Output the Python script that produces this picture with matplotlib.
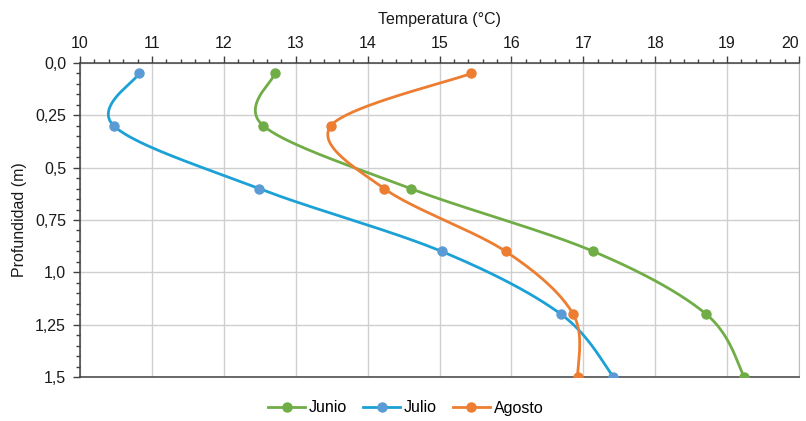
import numpy as np
import matplotlib
matplotlib.use("Agg")
import matplotlib.pyplot as plt
from matplotlib.ticker import MultipleLocator, FixedLocator
from matplotlib.lines import Line2D

plt.rcParams['font.family'] = ['Liberation Sans Narrow', 'Liberation Sans', 'DejaVu Sans']

# Depth of each measurement (m)
depths = [0.05, 0.30, 0.60, 0.90, 1.20, 1.50]

# Temperature (°C) per month
junio = [12.71, 12.55, 14.60, 17.14, 18.71, 19.24]
julio = [10.82, 10.47, 12.49, 15.03, 16.69, 17.42]
agosto = [15.44, 13.49, 14.23, 15.92, 16.86, 16.92]

series_names = ["Junio", "Julio", "Agosto"]
line_colors = ["#70AD47", "#1BA1D6", "#ED7D31"]
marker_colors = ["#70AD47", "#5B9BD5", "#ED7D31"]

x_ticks = [10, 11, 12, 13, 14, 15, 16, 17, 18, 19, 20]
y_ticks = [0.0, 0.25, 0.5, 0.75, 1.0, 1.25, 1.5]
y_tick_labels = ["0,0", "0,25", "0,5", "0,75", "1,0", "1,25", "1,5"]


def smooth(xs, ys, n=40):
    """Cubic Bezier smoothing through the points (Catmull-Rom style)."""
    P = np.column_stack([xs, ys]).astype(float)
    m = len(P)
    out = [P[0]]
    for i in range(m - 1):
        p0 = P[i - 1] if i > 0 else P[i]
        p1 = P[i]
        p2 = P[i + 1]
        p3 = P[i + 2] if i + 2 < m else P[i + 1]
        c1 = p1 + (p2 - p0) / 6.0
        c2 = p2 - (p3 - p1) / 6.0
        t = np.linspace(0, 1, n)[1:, None]
        seg = ((1 - t) ** 3) * p1 + 3 * ((1 - t) ** 2) * t * c1 + 3 * (1 - t) * t ** 2 * c2 + t ** 3 * p2
        out.extend(seg)
    out = np.array(out)
    return out[:, 0], out[:, 1]


fig = plt.figure(figsize=(8.06, 4.21), dpi=100)
ax = fig.add_axes([80 / 806, 1 - 377 / 421, (799 - 80) / 806, (377 - 63) / 421])

for vals, name, lc, mc in zip([junio, julio, agosto], series_names, line_colors, marker_colors):
    sx, sy = smooth(vals, depths)
    ax.plot(sx, sy, color=lc, lw=2.0, zorder=3, solid_capstyle='round')
    ax.plot(vals, depths, 'o', color=mc, ms=6.5, zorder=4)

ax.set_xlim(10, 20)
ax.set_ylim(1.5, 0.0)

ax.xaxis.set_ticks_position('top')
ax.xaxis.set_label_position('top')
ax.xaxis.set_major_locator(FixedLocator(x_ticks))
ax.xaxis.set_minor_locator(MultipleLocator(0.2))
ax.yaxis.set_major_locator(FixedLocator(y_ticks))
ax.yaxis.set_minor_locator(MultipleLocator(0.05))
ax.set_yticklabels(y_tick_labels)

ax.tick_params(axis='both', which='major', direction='out', length=5, width=1, color='#404040',
               labelsize=11.5, labelcolor='#1a1a1a')
ax.tick_params(axis='both', which='minor', direction='out', length=3, width=1, color='#404040')
ax.tick_params(axis='x', which='major', pad=4)
ax.tick_params(axis='y', which='major', pad=5)

ax.grid(True, which='major', color='#CFCFCF', lw=1.0, zorder=0)
ax.set_axisbelow(True)

for s in ['top', 'left', 'bottom']:
    ax.spines[s].set_color('#404040')
    ax.spines[s].set_linewidth(1.1)
ax.spines['right'].set_color('#BDBDBD')

ax.set_xlabel("Temperatura (°C)", fontsize=11.5, labelpad=8, color='#1a1a1a')
ax.set_ylabel("Profundidad (m)", fontsize=11.5, labelpad=6, color='#1a1a1a')

# keep the last temperature label inside the figure
last_tick = ax.xaxis.get_major_ticks()[-1]
last_tick.label2.set_horizontalalignment('right')

handles = [Line2D([], [], color=lc, lw=2.0, marker='o', markersize=6.5,
                  markerfacecolor=mc, markeredgecolor=mc)
           for lc, mc in zip(line_colors, marker_colors)]
fig.legend(handles, series_names, loc='center', bbox_to_anchor=(406 / 806, 1 - 408 / 421),
           ncol=3, frameon=False, fontsize=11.5, handlelength=2.3, handletextpad=0.25,
           columnspacing=1.0)

fig.savefig("out.png", dpi=100)
